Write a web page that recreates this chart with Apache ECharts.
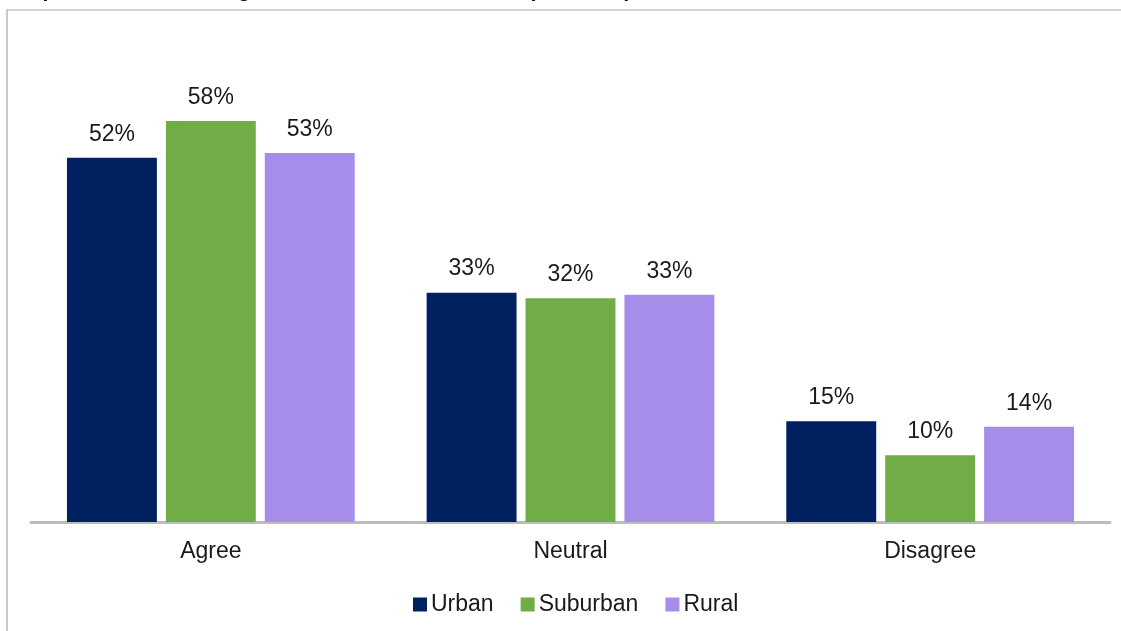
<!DOCTYPE html>
<html>
<head>
<meta charset="utf-8">
<script src="https://cdn.jsdelivr.net/npm/echarts@6/dist/echarts.min.js"></script>
<style>
    html, body { margin: 0; padding: 0; background: #ffffff; }
    #chart { width: 1121px; height: 631px; }
</style>
</head>
<body>
<div id="chart"></div>
<script>
// 数据
var categories = ['Agree', 'Neutral', 'Disagree'];
var seriesNames = ['Urban', 'Suburban', 'Rural'];
var urban = [52.4, 33.0, 14.5];
var suburban = [57.7, 32.2, 9.6];
var rural = [53.1, 32.7, 13.7];
var colors = ['#002060', '#70ad47', '#a68de9'];

var myChart = echarts.init(document.getElementById('chart'));

function makeSeries(name, data, color) {
    return {
        name: name,
        type: 'bar',
        data: data,
        barGap: '10%',
        barCategoryGap: '20%',
        itemStyle: { color: color },
        label: {
            show: true,
            position: 'top',
            distance: 12,
            color: '#1a1a1a',
            fontSize: 23,
            fontFamily: 'Liberation Sans, Arial, sans-serif',
            formatter: function (p) { return Math.round(p.value) + '%'; }
        }
    };
}

var option = {
    animation: false,
    backgroundColor: '#ffffff',
    textStyle: { fontFamily: 'Liberation Sans, Arial, sans-serif' },
    graphic: [
        {
            type: 'rect',
            shape: { x: 7, y: 10, width: 1300, height: 800 },
            style: { fill: 'none', stroke: '#a6a6a6', lineWidth: 1.2 },
            z: -1
        },
        {
            type: 'text',
            left: 4,
            top: -19,
            style: {
                text: "Respondents' level of agreement with the statement (n = 1,210)",
                font: 'bold 21px Liberation Sans, Arial, sans-serif',
                fill: '#000000'
            }
        }
    ],
    legend: {
        bottom: 10,
        left: 408,
        itemWidth: 14,
        itemHeight: 14,
        itemGap: 27,
        icon: 'rect',
        textStyle: { fontSize: 23, color: '#1a1a1a', padding: [0, 0, 0, -1] },
        data: seriesNames
    },
    grid: { left: 31, right: 11, top: 35.5, bottom: 109, containLabel: false },
    xAxis: {
        type: 'category',
        data: categories,
        axisLine: { show: true, lineStyle: { color: '#bcbcbc', width: 3 } },
        axisTick: { show: false },
        axisLabel: { fontSize: 23, color: '#1a1a1a', margin: 18 }
    },
    yAxis: {
        type: 'value',
        min: 0,
        max: 70,
        show: false,
        splitLine: { show: false }
    },
    series: [
        makeSeries(seriesNames[0], urban, colors[0]),
        makeSeries(seriesNames[1], suburban, colors[1]),
        makeSeries(seriesNames[2], rural, colors[2])
    ]
};

option && myChart.setOption(option);
</script>
</body>
</html>
